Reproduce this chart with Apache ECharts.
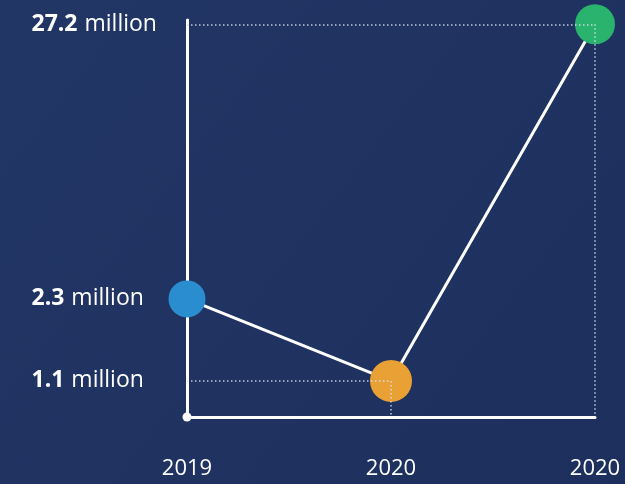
<!DOCTYPE html>
<html><head><meta charset="utf-8">
<script src="https://cdn.jsdelivr.net/npm/echarts@6/dist/echarts.min.js"></script>
<style>html,body{margin:0;padding:0;background:#1f3160;}#c{width:625px;height:484px;}</style>
</head><body><div id="c"></div>
<script>
// ---- data ----
var categories = ['2019', '2020', '2020'];
var values = [2.3, 1.1, 27.2];          // millions
var valueUnits = ['million', 'million', 'million'];
var pointColors = ['#2a8dd0', '#e9a035', '#29b36c'];
var pointSizes = [37, 42, 40];
var dropLineIdx = [1, 2];               // points that get dotted guide lines
var yMin = 0.795, yMax = 28.26;         // log axis extent

var FONT = '"Open Sans", Inter, sans-serif';

var lineData = values.map(function (v, i) {
  return { value: v, symbolSize: pointSizes[i], itemStyle: { color: pointColors[i] } };
});

var guideLines = [];
dropLineIdx.forEach(function (i) {
  guideLines.push([{ coord: [0, values[i]] }, { coord: [i, values[i]] }]);
  guideLines.push([{ coord: [i, values[i]] }, { coord: [i, yMin] }]);
});

var labelPoints = values.map(function (v, i) {
  return { coord: [0, v], x: 31, value: v, unit: valueUnits[i] };
});

var chart = echarts.init(document.getElementById('c'), null, { renderer: 'canvas' });
chart.setOption({
  backgroundColor: {
    type: 'linear', x: 0, y: 0, x2: 1, y2: 1,
    colorStops: [{ offset: 0, color: '#223665' }, { offset: 1, color: '#1d2f5d' }]
  },
  animation: false,
  grid: { left: 187, right: 30, top: 20, bottom: 67, containLabel: false },
  xAxis: {
    type: 'category', data: categories, boundaryGap: false,
    axisLine: { show: true, lineStyle: { color: '#ffffff', width: 3 } },
    axisTick: { show: false },
    axisLabel: { color: '#ffffff', fontSize: 22, fontFamily: FONT, margin: 41 },
    splitLine: { show: false }
  },
  yAxis: {
    type: 'log', logBase: 10, min: yMin, max: yMax,
    axisLine: { show: true, lineStyle: { color: '#ffffff', width: 3 },
      symbol: ['circle', 'none'], symbolSize: [9, 9] },
    axisTick: { show: false },
    axisLabel: { show: false },
    splitLine: { show: false }
  },
  series: [
    {
      type: 'line', data: [], z: 1, silent: true,
      markLine: {
        silent: true, symbol: ['none', 'none'],
        lineStyle: { color: 'rgba(220,228,245,0.85)', type: [1.5, 2.5], width: 1.5 },
        label: { show: false },
        data: guideLines
      }
    },
    {
      type: 'line', data: lineData, z: 3,
      symbol: 'circle',
      lineStyle: { color: '#ffffff', width: 3 },
      itemStyle: { borderWidth: 0 },
      markPoint: {
        symbol: 'rect', symbolSize: 1,
        itemStyle: { color: 'rgba(0,0,0,0)' },
        label: {
          show: true, position: 'right', distance: 0,
          fontFamily: FONT,
          formatter: function (p) {
            return '{b|' + p.data.value + '}{n|' + p.data.unit + '}';
          },
          rich: {
            b: { color: '#ffffff', fontSize: 23, fontWeight: 700, fontFamily: FONT },
            n: { color: '#ffffff', fontSize: 23, fontWeight: 400, fontFamily: FONT, padding: [0, 0, 0, 7] }
          }
        },
        data: labelPoints
      }
    }
  ]
});
</script></body></html>
